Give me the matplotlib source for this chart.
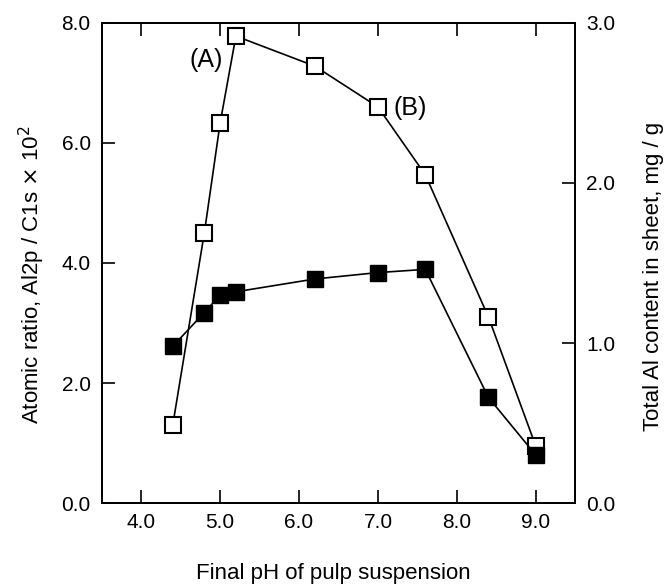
"""Al ratio vs final pH, two y axes."""
import matplotlib
matplotlib.use("Agg")
import matplotlib.pyplot as plt

plt.rcParams["font.family"] = ["Liberation Sans", "DejaVu Sans"]

ph = [4.4, 4.8, 5.0, 5.2, 6.2, 7.0, 7.6, 8.4, 9.0]
atomic_ratio = [1.3, 4.5, 6.33, 7.78, 7.28, 6.6, 5.47, 3.1, 0.95]       # open squares, left axis
total_al = [0.98, 1.19, 1.30, 1.32, 1.40, 1.44, 1.46, 0.66, 0.30]       # filled squares, right axis

x_ticks = [4.0, 5.0, 6.0, 7.0, 8.0, 9.0]
left_ticks = [0.0, 2.0, 4.0, 6.0, 8.0]
right_ticks = [0.0, 1.0, 2.0, 3.0]

fig = plt.figure(figsize=(6.65, 5.87), dpi=100)
ax = fig.add_axes([0.153, 0.143, 0.712, 0.818])
ax2 = ax.twinx()

ax.plot(ph, atomic_ratio, color="black", lw=1.2, marker="s", ms=11,
        mfc="white", mec="black", mew=1.5, zorder=3)
ax2.plot(ph, total_al, color="black", lw=1.2, marker="s", ms=11,
         mfc="black", mec="black", zorder=3)

ax.set_xlim(3.5, 9.5)
ax.set_ylim(0, 8)
ax2.set_ylim(0, 3)

ax.set_xticks(x_ticks)
ax.set_xticklabels([f"{v:.1f}" for v in x_ticks])
ax.set_yticks(left_ticks)
ax.set_yticklabels([f"{v:.1f}" for v in left_ticks])
ax2.set_yticks(right_ticks)
ax2.set_yticklabels([f"{v:.1f}" for v in right_ticks])

ax.tick_params(axis="x", direction="in", length=9.5, width=1.2, top=True,
               labelsize=15, pad=7)
ax.tick_params(axis="y", direction="in", length=9.5, width=1.2, labelsize=15, pad=8)
ax2.tick_params(axis="y", direction="in", length=9.5, width=1.2, labelsize=15, pad=8)
for a in (ax, ax2):
    for s in a.spines.values():
        s.set_linewidth(1.3)

ax.set_xlabel("Final pH of pulp suspension", fontsize=16)
ax.xaxis.set_label_coords(0.49, -0.146)
ax.set_ylabel("Atomic ratio, Al2p / C1s $\\times$ 10$^2$", fontsize=16)
ax.yaxis.set_label_coords(-0.148, 0.475)
ax2.set_ylabel("Total Al content in sheet, mg / g", fontsize=16, rotation=90)
ax2.yaxis.set_label_coords(1.165, 0.473)
for lab in (ax.xaxis.label, ax.yaxis.label, ax2.yaxis.label):
    lab.set_ha("center")
    lab.set_va("center")

ax.text(4.82, 7.39, "(A)", fontsize=18, ha="center", va="center")
ax.text(7.41, 6.58, "(B)", fontsize=18, ha="center", va="center")

fig.savefig("out.png", dpi=100)
